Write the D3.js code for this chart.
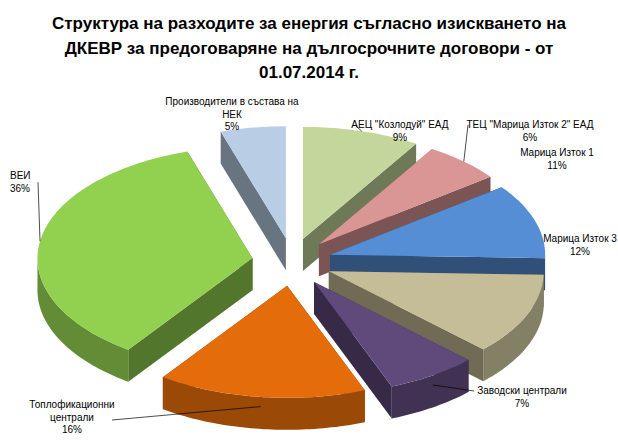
<!DOCTYPE html>
<html>
<head>
<meta charset="utf-8">
<script src="https://cdn.jsdelivr.net/npm/d3@7"></script>
<style>
  body { margin: 0; background: #fff; }
  text { font-family: "Liberation Sans", Arial, sans-serif; }
</style>
</head>
<body>
<svg width="618" height="443"></svg>
<script>
// Data, clockwise from top
const categories = ["Производители в състава на НЕК", "АЕЦ \"Козлодуй\" ЕАД", "ТЕЦ \"Марица Изток 2\" ЕАД",
  "Марица Изток 1", "Марица Изток 3", "Заводски централи", "Топлофикационни централи", "ВЕИ"];
const values = [5, 9, 6, 11, 12, 7, 16, 36];
const colors = ["#b9cde5", "#c3d69b", "#d99694", "#558ed5", "#c4bd97", "#604a7b", "#e46c0a", "#92d050"];
const labelLines = [["Производители в състава на", "НЕК", "5%"], ["АЕЦ \"Козлодуй\" ЕАД", "9%"],
  ["ТЕЦ \"Марица Изток 2\" ЕАД", "6%"], ["Марица Изток 1", "11%"], ["Марица Изток 3", "12%"],
  ["Заводски централи", "7%"], ["Топлофикационни", "централи", "16%"], ["ВЕИ", "36%"]];

// label placement (layout)
const labelPos = [[232, 105, "middle"], [400, 128, "middle"], [530, 128, "middle"], [557, 156, "middle"],
  [580, 242, "middle"], [522, 394, "middle"], [72, 408, "middle"], [10, 179, "start"]];
const leader = [false, true, true, false, false, true, true, true];

const svg = d3.select("svg");
const cx = 292, cy = 262, rx = 215, ry = 112, depth = 32, explode = 40;

svg.append("g").selectAll("text")
  .data(["Структура на разходите за енергия съгласно изискването на",
         "ДКЕВР за предоговаряне на дългосрочните договори - от",
         "01.07.2014 г."])
  .join("text")
  .attr("x", 309).attr("y", (d, i) => 29 + i * 24.5)
  .attr("text-anchor", "middle")
  .style("font-size", "17px").style("font-weight", "bold")
  .text(d => d);

const offset = -values[0] / d3.sum(values) * 2 * Math.PI;
const pie = d3.pie().sort(null).startAngle(offset).endAngle(offset + 2 * Math.PI);
const arcs = pie(values).map((a, i) => {
  const mid = (a.startAngle + a.endAngle) / 2;
  return { ...a, i, mid, ox: Math.sin(mid) * explode, oy: -Math.cos(mid) * explode * 0.6 };
});

const pt = (d, a, z = 0) => [cx + d.ox + Math.sin(a) * rx, cy + d.oy - Math.cos(a) * ry + z];
const angles = (s, e) => d3.range(s, e, 0.02).concat([e]);
const line = d3.line();

const order = arcs.slice().sort((a, b) => Math.cos(b.mid) - Math.cos(a.mid));
const g = svg.append("g");
order.forEach(d => {
  const base = colors[d.i];
  const dark = d3.color(base).darker(1.1);
  const c = [cx + d.ox, cy + d.oy];
  // radial walls
  [d.startAngle, d.endAngle].forEach(a => {
    const p = pt(d, a);
    g.append("path")
      .attr("d", line([c, p, [p[0], p[1] + depth], [c[0], c[1] + depth]]) + "Z")
      .attr("fill", d3.color(base).darker(1.6));
  });
  // outer wall (front half only)
  const s = Math.max(d.startAngle, Math.PI / 2), e = Math.min(d.endAngle, 3 * Math.PI / 2);
  if (e > s) {
    const top = angles(s, e).map(a => pt(d, a));
    const bot = angles(s, e).reverse().map(a => pt(d, a, depth));
    g.append("path").attr("d", line(top.concat(bot)) + "Z").attr("fill", dark);
  }
  // top face
  const pts = [c].concat(angles(d.startAngle, d.endAngle).map(a => pt(d, a)));
  g.append("path").attr("d", line(pts) + "Z").attr("fill", base);
});

// labels
const lg = svg.append("g");
arcs.forEach(d => {
  const [x, y, anchor] = labelPos[d.i];
  const lines = labelLines[d.i];
  lg.append("g").selectAll("text").data(lines).join("text")
    .attr("x", x).attr("y", (t, k) => y + k * 12.5)
    .attr("text-anchor", anchor)
    .style("font-size", "10px").attr("fill", "#000")
    .text(t => t);
  if (leader[d.i]) {
    const edge = pt(d, d.mid, Math.cos(d.mid) < 0 ? depth * 0.3 : 0);
    const ly = y + (lines.length - 1) * 12.5 / 2 - 3;
    const lx = anchor === "start" ? x + 28 : (edge[0] < x ? x - 50 : x + 50);
    let from = [lx, ly];
    if (d.i === 1) from = [x - 45, y - 3];
    if (d.i === 2) from = [x - 62, y - 3];
    if (d.i === 5) from = [x - 48, y - 3];
    if (d.i === 6) from = [x + 40, y + 12];
    lg.append("path").attr("d", line([from, edge])).attr("stroke", "#000").attr("stroke-width", 0.7).attr("fill", "none");
  }
});
</script>
</body>
</html>
